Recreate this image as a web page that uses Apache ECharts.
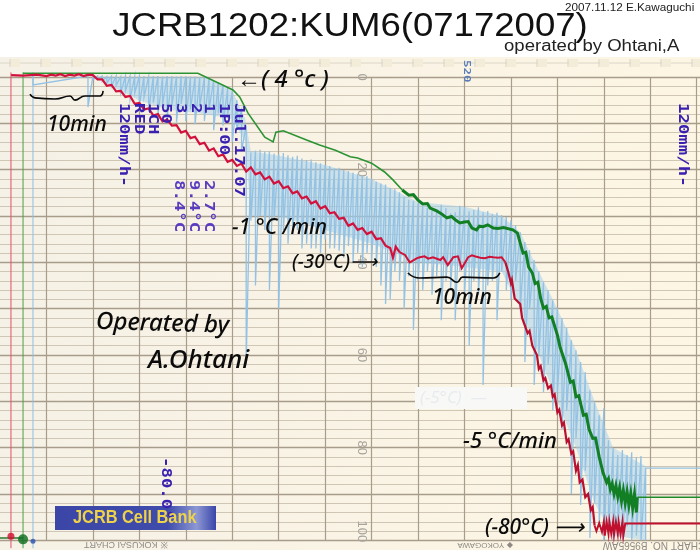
<!DOCTYPE html>
<html><head><meta charset="utf-8">
<style>html,body{margin:0;padding:0;background:#fff}#c{width:700px;height:550px}</style>
<script src="https://cdn.jsdelivr.net/npm/echarts@6/dist/echarts.min.js"></script>
</head><body><div id="c"></div>
<script>
// ---- values read from the recorder strip: time in minutes, reading in chart units ----
const yTickLabels = [0,20,40,60,80,100];
const redTime = [1.2,2.5,4,5,5.5,6,6.5,7,7.5,8,8.5,9,9.5,10,10.5,11,11.5,12,12.5,13,13.5,14,14.5,15,15.5,16,16.5,17,17.5,18,18.5,19,19.5,20,20.5,21,21.5,22,22.5,23,23.5,24,24.5,25,25.5,26,26.5,27,27.5,28,28.5,29,29.5,30,30.5,31,31.5,32,32.5,33,33.5,34,34.5,35,35.5,36,36.5,37,37.5,38,38.5,39,39.5,40,40.5,41,41.5,42,42.3,42.6,43];
const redLevel = [-0.4,-0.3,-0.5,-0.2,-0.5,-0.3,-0.6,-0.2,-0.5,-0.3,-0.6,-0.2,-0.5,-0.4,0.5,0.5,1.9,1.7,3.1,3.0,4.3,4.1,5.8,5.6,7.0,6.8,8.3,8.0,9.6,9.2,10.5,10.4,12.0,11.6,13.2,12.9,14.5,14.2,15.9,15.4,17.1,16.7,18.3,17.9,19.2,18.7,20.4,19.5,21.0,20.6,22.1,21.5,23.0,22.5,24.0,23.6,25.1,24.7,26.2,25.8,27.3,26.8,28.4,27.9,29.4,29.2,30.6,30.4,32.1,31.6,33.0,32.6,33.9,33.4,35.0,34.8,36.4,36.9,39.0,36.6,37.8];
const redHoldTime = [43,43.6,44.1,44.9,45.2,45.7,46.1,46.6,47.4,47.7,48.2,48.8,49.3,49.7,50.4,50.8,51.1,51.7,52.2,52.7,53.1,53.6,54,54.4];
const redHoldLevel = [37.8,38.4,40,39.1,38.9,38.7,39.2,38.9,39.5,38.9,40.6,38.9,38.7,41.3,38.9,38.5,38.7,39,39.1,38.8,38.9,39,38.9,40];
const redFallTime = [54.4,54.7,55,55.1,55.4,55.6,56,56.2,56.4,56.8,57,57.3,57.5,57.8,58,58.2,58.5,58.7,59,59.3,59.5,59.7,60,60.2,60.5,60.7,61,61.2,61.5,61.7,62,62.2,62.4,62.7,63,63.3,63.6,63.8,64];
const redFallLevel = [40,42,44.5,43.8,47.8,47.4,49,52,51.6,55.3,54.8,58,57.6,60,63,62.4,65.5,65,67.2,66.6,69,68.5,72.4,71.8,75.2,74.6,78.8,78.2,81.3,80.8,85,83.8,87.5,86.9,90.7,90,93.5,92.8,96.8];
const redStoreTime = [64,64.2,64.5,64.8,65,65.1,65.3,65.5,65.6,65.8,66,66.1,66.3,66.5,66.6,66.8,67,67.1,67.3,75.35];
const redStoreLevel = [96.8,98,96.3,98.2,96,99,96,98.6,96,98.6,96,98.8,96,98.6,96.1,98.7,96,99,96.4,96.4];

const greenTime = [2.48,21.3,21.5,25.08,25.8,26.7,28.5,29.4,29.7,30.5,33,34.4,36.1,37.7,38.5,40,41.4,42.3,43.3];
const greenLevel = [-0.8,-0.8,-0.9,2.8,4.3,7.8,13,14,11.9,11.6,13.6,14.7,15.8,17.2,17.5,18.6,20.5,22.2,24.4];
const greenFallTime = [43.3,44,44.5,45,45.5,46,46.3,47,47.5,48.1,48.6,49,49.5,50,50.4,50.8,51.3,51.6,52,52.5,53.1,53.6,54.2,55.2,55.7,56.3,56.6,56.9,57.3,57.6,57.9,58.2,58.5,58.8,59.1,59.4,60,60.3,60.5,60.9,61.4,61.7,62,62.3,62.8,63.1,63.4,63.8,64.1,64.5,64.9,65.1,65.3,65.5,65.7,65.9,66.1,66.3,66.5,66.7,66.9,67.1,67.3,67.5,67.7,67.9,68.1,68.3,68.5,68.6];
const greenFallLevel = [24.4,25.5,25.4,26.6,27.4,27.3,28.3,28.9,29.5,30.4,30.1,30.8,31.5,31.3,31.2,32.6,33,32.2,32.3,31.9,32.6,32.7,32.5,33,33.7,38,37.8,41,42.3,44.6,44.3,47.8,49.9,49.5,52,51.8,55.7,58.4,58.1,62,65.9,65.6,69,68.8,73,72.8,76,78,77.9,82,85.3,85.6,87.5,86.7,89,87.8,90,88.2,90.6,88.6,91.5,89.2,92,89.5,92.5,89.9,93,90,94,90.7];
const greenHoldTime = [68.6,75.35];
const greenHoldLevel = [90.7,90.7];

const blueTime = [3.55,9.47,10,10.5,11,11.5,12,12.5,13,13.5,14,14.5,15,15.5,16,16.5,17,17.5,18,18.5,19,19.5,20,20.5,21,21.5,22,22.5,23,23.5,24,24.5,25,25.5,26,26.5,27,27.5,28,28.5,29,29.5,30,30.5,31,31.5,32,32.5,33,33.5,34,34.5,35,35.5,36,36.5,37,37.5,38,38.5,39,39.5,40,40.5,41,41.5,42,42.5,43,43.5,44,44.5,45,45.5,46,46.5,47,47.5,48,48.5,49,49.5,50,50.5,51,51.5,52,52.5,53,53.5,54,54.5,55,55.5,56,56.5,57,57.5,58,58.5,59,59.5,60,60.5,61,61.5,62,62.5,63,63.5,64,64.5,65,65.5,66,66.5,67,67.5,68,68.5,69,69.5];
const bluePeak = [-0.2,-0.2,-0.2,-0.2,-0.2,-0.1,-0.2,-0.2,-0.1,-0.2,-0.2,-0.1,-0.2,-0.2,-0.1,-0.2,-0.2,-0.1,-0.2,-0.2,-0.1,-0.2,-0.2,-0.1,-0.1,0,0.1,0.3,0.7,1.1,1.8,2.4,3.3,5,7.2,10.5,16.3,15.9,15.7,16.1,16.0,16.5,16.7,16.4,16.9,17.2,17.0,17.6,17.9,17.8,18.4,18.6,19.0,19.2,19.7,19.6,20.1,20.3,20.6,20.9,21.3,21.4,21.9,22.6,23,23.2,23.9,24.2,24.9,25.8,26.5,26.7,27.3,27.9,28.2,28.9,28.6,27.6,28.3,29.4,29.2,27.8,28.2,29,28.7,28.1,29.2,28.9,29.6,29.3,29.8,30.2,30.9,32,33.5,35.6,37.4,39.5,42,44.3,46,48.2,49.9,52,54.2,56.8,59,61.5,63.7,67.6,70.2,73,71.5,78.4,80.1,81.6,80.5,81.6,81,82.1,81.8,84.4];
const blueDip = [1.7,6.5,0.6,0.5,0.9,1.3,2.0,1.8,3.4,3.0,4.8,3.5,6.2,4.4,7.5,5.5,8.3,6.0,8.8,6.2,9.8,5.8,9.5,7.0,10.2,6.5,9.5,7,11.5,7.8,10.5,8,14,11,16,62,31,45,30,33,46,31,50,33,36,34,33,37,36,37,37,38,35,37,37,37.5,39,36.5,40,38,41,38,39.5,41,45,49,48,42,44,50,43,54.6,44,46,42,47,43,52.5,44,46,52.5,42,47,58,44,47,66.5,45,44,52.5,42,46,48,44,50,61.5,50,66.5,60,68,62,72,68,76,72,90,78,92.4,85,99.5,92,97,100,98,100,98,100,97,100,99,100,100];
const blueHoldTime = [69.5,69.7,75.35];
const blueHoldLevel = [84.4,84.4,84.4];
// the soft band the fast pen strokes leave: upper and lower edge
const bandTime = [11,15,18,22,25,26.4,27,30,35,40,45,50,54,56,58,60,62,64,66,69.5];
const bandTop = [0,0,0,0,3,9,16,17,19,22,27,28,30,33.5,42,50,59,70,80,84];
const bandBottom = [1,5,7,8,9,14,30,30,33,36,40,41,42,50,60,70,80,92,99,100];

const penZeroTime = [1.18,2.48,3.55];
const penZeroLevel = [99.1,99.8,100.2];
const penRestTime = [0,2.48];
const penRestLevel = [99.5,99.5];
const braceOneTime = [3.23,3.77,5.92,7.53,8.07,9.15,10.76,11.1];
const braceOneLevel = [3.7,4.5,4.75,4.1,5,4.1,4.1,3];
const braceTwoTime = [43.9,45.2,48.1,49.2,49.8,53.1,53.8];
const braceTwoLevel = [42.3,43.4,43.2,44.3,43.2,43.4,42.3];

const zip = (a,b) => a.map((v,i)=>[v,b[i]]);
const blueData = [];
blueTime.forEach((t,i)=>{ blueData.push([t,bluePeak[i]],[t,blueDip[i]]); });
const bluePen = blueData.concat(zip(blueHoldTime,blueHoldLevel));

const line = (name,data,color,width,z,extra) => Object.assign({
  name,type:'line',data,symbol:'none',clip:false,z,silent:true,
  lineStyle:{color,width,join:'miter'},
  emphasis:{disabled:true}
},extra||{});
const penLine = (t,color) => line('pen',[[t,-1],[t,101.7]],color,1,2);

const hand = (text,x,y,size,rot) => ({type:'text',x,y,rotation:rot||0,z:20,silent:true,
  style:{text,fill:'#0b0b0b',font:'italic 500 '+size+'px "Noto Sans"',textAlign:'left',textVerticalAlign:'middle'}});
const printed = (text,x,y,size,color) => ({type:'text',x,y,rotation:-Math.PI/2,scaleX:1.24,scaleY:0.95,z:20,silent:true,
  style:{text,fill:color||'#3a20b0',font:'bold '+size+'px "DejaVu Sans Mono"',textAlign:'left',textVerticalAlign:'middle'}});
const flat = (text,x,y,font,color,align,sx) => ({type:'text',x,y,z:20,silent:true,scaleX:sx||1,
  style:{text,fill:color,font,textAlign:align||'left',textVerticalAlign:'middle'}});
const upside = (text,x,y,size) => ({type:'text',x,y,rotation:Math.PI,z:20,silent:true,
  style:{text,fill:'#8d8a84',font:size+'px "Liberation Sans"',textAlign:'center',textVerticalAlign:'middle'}});

const graphics = [
  {type:'rect',z:-2,silent:true,shape:{x:0,y:57,width:700,height:493},
   style:{fill:{type:'linear',x:0,y:0,x2:1,y2:0.2,colorStops:[{offset:0,color:'#f5f1e6'},{offset:0.45,color:'#f9f3e6'},{offset:1,color:'#fdf6e4'}]}}},
  {type:'line',z:-1,silent:true,shape:{x1:0,y1:63,x2:700,y2:63},style:{stroke:'#dcd6c8',lineWidth:1}}
];
for(let k=0;k<23;k++){
  graphics.push({type:'rect',z:-1,silent:true,shape:{x:11+31*k,y:59,width:9,height:8},style:{fill:'#f3ecd8'}});
  graphics.push({type:'line',z:-1,silent:true,shape:{x1:10+31*k,y1:59,x2:10+31*k,y2:67},style:{stroke:'#d8d2c4',lineWidth:1}});
}
graphics.push(
  flat('JCRB1202:KUM6(07172007)',350,27,'32.5px "Liberation Sans"','#111','center',1.125),
  flat('operated by Ohtani,A',504,47,'15.6px "Liberation Sans"','#222','left',1.19),
  flat('2007.11.12 E.Kawaguchi',565,8.5,'10px "Liberation Sans"','#222','left',1.17),
  printed('120mm/h-',123,103,14),
  printed('RED',138,103,14),
  printed('1CH',152,103,14),
  printed('50',165,103,14),
  printed('3',180,103,14),
  printed('2',195,103,14),
  printed('1',208,103,14),
  printed('1P:00',223,103,14),
  printed('Jul.17.07',238,103,14),
  printed('8.4°C',178,180,14,'#5a3cc0'),
  printed('9.4°C',193,180,14,'#5a3cc0'),
  printed('2.7°C',208,180,14,'#5a3cc0'),
  printed('120mm/h-',682,103,14),
  printed('-80.0°',165,457,14),
  printed('520',466,60,10,'#5a7cb8'),
  {type:'rect',z:15,silent:true,shape:{x:415,y:387,width:112,height:22},style:{fill:'#f8f8f6'}},
  flat('(-5°C)  —',420,398,'italic 17px "Noto Sans"','#e8ebee'),
  {type:'rect',z:16,silent:true,shape:{x:55,y:506,width:161,height:24},
   style:{fill:{type:'linear',x:0,y:0,x2:1,y2:0,colorStops:[{offset:0,color:'#3b46a6'},{offset:0.7,color:'#3f4cab'},{offset:0.88,color:'#8d97d4'},{offset:1,color:'#3a46a8'}]}}},
  flat('JCRB Cell Bank',73,518,'bold 19px "Liberation Sans"','#eed24a','left',0.86),
  upside('※ KOKUSAI CHART',126,544,9),
  upside('◆ YOKOGAWA',485,545,8),
  upside('CHART NO. B9565AW',654,545,10),
  hand('←( 4 °c )',237,80,24),
  hand('10min',47,125,21),
  hand('−1 °C /min',232,228,21),
  hand('(−30°C)⟶',292,263,19),
  hand('10min',432,298,21),
  hand('Operated by',96,322,24,-0.03),
  hand('A.Ohtani',148,361,26),
  hand('−5 °C/min',463,442,22),
  hand('(−80°C) ⟶',485,528,21)
);

const chart = echarts.init(document.getElementById('c'),null,{renderer:'canvas'});
chart.setOption({
  animation:false,
  backgroundColor:'#ffffff',
  tooltip:{show:false},
  legend:{show:false},
  grid:{left:0,top:77,width:700,height:463.3,containLabel:false,outerBoundsMode:'none'},
  xAxis:{type:'value',min:0,max:75.35,interval:5,
    axisLine:{show:false},axisTick:{show:false},axisLabel:{show:false},
    splitLine:{show:true,showMinLine:false,showMaxLine:false,lineStyle:{color:'#a89c8a',width:1.2}}},
  yAxis:{type:'value',min:0,max:100,interval:10,inverse:true,position:'left',offset:-371,
    axisLine:{show:false},axisTick:{show:false},
    axisLabel:{show:true,margin:3,rotate:-90,color:'#a8a49c',fontSize:13,fontFamily:'Liberation Sans',
      rich:{end:{color:'#a8a49c',fontSize:13,fontFamily:'Liberation Sans',padding:[0,18,0,0]}},
      formatter:v=>v===100?'{end|100}':(yTickLabels.includes(v)?String(v):'')},
    splitLine:{show:true,lineStyle:{color:'#a89c8a',width:1.4}},
    minorTick:{show:false,splitNumber:5},
    minorSplitLine:{show:true,lineStyle:{color:'#cfc6b5',width:1}}},
  graphic:{elements:graphics},
  series:[
    {type:'custom',silent:true,clip:false,z:1,coordinateSystem:'cartesian2d',
     data:bandTime.map((t,i)=>[t,bandTop[i],bandBottom[i]]),
     encode:{x:0,y:[1,2]},
     renderItem:(params,api)=>{
       const i=params.dataIndex; if(i+1>=bandTime.length) return null;
       const pts=[api.coord([bandTime[i],bandTop[i]]),api.coord([bandTime[i+1],bandTop[i+1]]),
                  api.coord([bandTime[i+1],bandBottom[i+1]]),api.coord([bandTime[i],bandBottom[i]])];
       return {type:'polygon',shape:{points:pts},style:{fill:'rgba(160,205,235,0.5)'}};
     }},
    penLine(penZeroTime[0],'#e2506a'),
    penLine(penZeroTime[1],'#4aa04a'),
    penLine(penZeroTime[2],'#8fbfe2'),
    line('blue',bluePen,'#93c2e4',1.3,3),
    line('green',zip(greenTime,greenLevel),'#2b9334',1.6,5),
    line('greenFall',zip(greenFallTime,greenFallLevel),'#137f25',3,5),
    line('greenHold',zip(greenHoldTime,greenHoldLevel),'#1f8a2c',1.6,5),
    line('red',zip(redTime,redLevel),'#d2123c',2.2,6),
    line('redHold',zip(redHoldTime,redHoldLevel),'#cf1238',2,6),
    line('redFall',zip(redFallTime,redFallLevel),'#b81030',2.2,6),
    line('redStore',zip(redStoreTime,redStoreLevel),'#c0102e',2,6),
    line('penRest',zip(penRestTime,penRestLevel),'#2a7a30',1.5,6),
    {type:'scatter',silent:true,clip:false,z:7,data:[[penZeroTime[0],penZeroLevel[0]]],symbolSize:7,itemStyle:{color:'#d01030'}},
    {type:'scatter',silent:true,clip:false,z:7,data:[[penZeroTime[1],penZeroLevel[1]]],symbolSize:10,itemStyle:{color:'#0d6d1e'}},
    {type:'scatter',silent:true,clip:false,z:7,data:[[penZeroTime[2],penZeroLevel[2]]],symbolSize:5,itemStyle:{color:'#2a50b0'}},
    line('brace',zip(braceOneTime,braceOneLevel),'#0b0b0b',1.6,8,{smooth:true}),
    line('brace',zip(braceTwoTime,braceTwoLevel),'#0b0b0b',1.6,8,{smooth:true})
  ]
});
</script></body></html>
